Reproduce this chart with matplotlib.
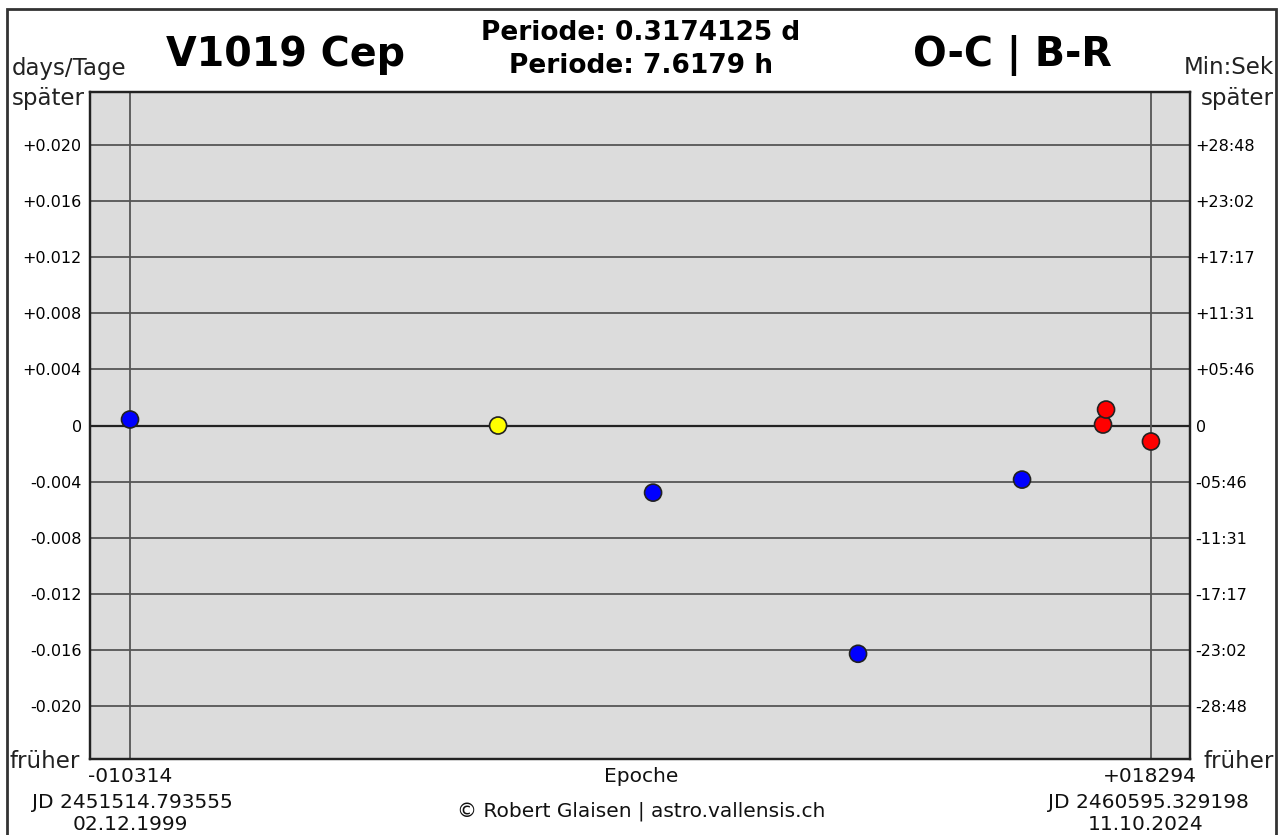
import matplotlib.pyplot as plt
from matplotlib.patches import Rectangle

# O-C data: epoch, O-C in days, colour of the dot
epoch = [-10314, 0, 4343, 10087, 14682, 16951, 17036, 18294]
oc = [0.00043, 0.0, -0.00479, -0.01629, -0.00386, 0.00007, 0.00114, -0.00114]
colors = ['#0000ff', '#ffff00', '#0000ff', '#0000ff', '#0000ff', '#ff0000', '#ff0000', '#ff0000']

yticks = [0.020, 0.016, 0.012, 0.008, 0.004, 0.0, -0.004, -0.008, -0.012, -0.016, -0.020]
left_labels = ['+0.020', '+0.016', '+0.012', '+0.008', '+0.004', '0',
               '-0.004', '-0.008', '-0.012', '-0.016', '-0.020']
right_labels = ['+28:48', '+23:02', '+17:17', '+11:31', '+05:46', '0',
                '-05:46', '-11:31', '-17:17', '-23:02', '-28:48']

first_epoch, last_epoch = -10314, 18294

fig = plt.figure(figsize=(12.82, 8.35), dpi=100)
ax = fig.add_axes([0.0702, 0.0910, 0.858, 0.7988])
ax.set_facecolor('#dcdcdc')
ax.set_xlim(-11435, 19387)
ax.set_ylim(-0.0238, 0.0238)

for y in yticks:
    if y == 0:
        ax.axhline(0, color='#222222', lw=1.6, zorder=1)
    else:
        ax.axhline(y, color='#555555', lw=1.3, zorder=1)
ax.axvline(first_epoch, color='#555555', lw=1.3, zorder=1)
ax.axvline(last_epoch, color='#555555', lw=1.3, zorder=1)

ax.scatter(epoch, oc, s=150, c=colors, edgecolors='#222222', linewidths=1.2, zorder=3)

ax.set_xticks([])
ax.set_yticks(yticks)
ax.set_yticklabels(left_labels, fontsize=11.5)
ax.tick_params(axis='y', length=0, pad=6)
ax2 = ax.twinx()
ax2.set_ylim(ax.get_ylim())
ax2.set_yticks(yticks)
ax2.set_yticklabels(right_labels, fontsize=11.5)
ax2.tick_params(axis='y', length=0, pad=4)
for a in (ax, ax2):
    for s in a.spines.values():
        s.set_color('#222222')
        s.set_linewidth(1.6)

# outer frame
fig.patches.append(Rectangle((7 / 1282, -0.01), 1269 / 1282, 1 - 9 / 835 + 0.01,
                             transform=fig.transFigure, fill=False,
                             edgecolor='#333333', lw=2))

def px(x, y):
    return x / 1282, 1 - y / 835

fig.text(*px(285, 55), 'V1019 Cep', fontsize=28.5, fontweight='bold', ha='center', va='center')
fig.text(*px(1012, 55), 'O-C | B-R', fontsize=28.5, fontweight='bold', ha='center', va='center')
fig.text(*px(641, 33), 'Periode: 0.3174125 d', fontsize=19, fontweight='bold', ha='center', va='center')
fig.text(*px(641, 66), 'Periode: 7.6179 h', fontsize=19, fontweight='bold', ha='center', va='center')

side = dict(fontsize=16.5, va='center', color='#222222')
fig.text(*px(12, 68), 'days/Tage', ha='left', **side)
fig.text(*px(12, 98), 'später', ha='left', **side)
fig.text(*px(1274, 68), 'Min:Sek', ha='right', **side)
fig.text(*px(1274, 98), 'später', ha='right', **side)
fig.text(*px(10, 762), 'früher', ha='left', **side)
fig.text(*px(1274, 762), 'früher', ha='right', **side)

small = dict(fontsize=14.5, ha='center', va='center', color='#111111')
fig.text(*px(130, 776), '-010314', **small)
fig.text(*px(132, 803), 'JD 2451514.793555', **small)
fig.text(*px(130, 825), '02.12.1999', **small)
fig.text(*px(1150, 776), '+018294', **small)
fig.text(*px(1148, 803), 'JD 2460595.329198', **small)
fig.text(*px(1146, 825), '11.10.2024', **small)
fig.text(*px(641, 777), 'Epoche', **small)
fig.text(*px(641, 811), '© Robert Glaisen | astro.vallensis.ch', **small)

fig.savefig('out.png', dpi=100)
